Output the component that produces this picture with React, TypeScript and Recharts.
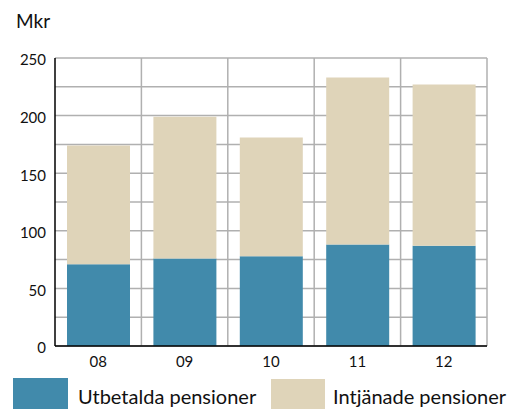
import React from "react";
import {
  BarChart,
  Bar,
  XAxis,
  YAxis,
  CartesianGrid,
} from "recharts";

// years (2008-2012), values in Mkr
const categories = ["08", "09", "10", "11", "12"];
const utbetalda = [71, 76, 78, 88, 87];
const intjanade = [103, 123, 103, 145, 140];
const yTicks = [0, 50, 100, 150, 200, 250];
const gridTicks = [0, 25, 50, 75, 100, 125, 150, 175, 200, 225, 250];
const yMax = 250;

const BLUE = "#418aab";
const BEIGE = "#dfd4b9";
const FONT = "Lato, 'Open Sans', sans-serif";

const data = categories.map((c, i) => ({
  year: c,
  utbetalda: utbetalda[i],
  intjanade: intjanade[i],
}));

export default function App() {
  return (
    <div
      style={{
        position: "absolute",
        left: 0,
        top: 0,
        width: 531,
        height: 409,
        overflow: "hidden",
        background: "#fff",
        fontFamily: FONT,
      }}
    >
      <div
        style={{
          position: "absolute",
          left: 16,
          top: 9,
          fontSize: 19,
          color: "#111",
        }}
      >
        Mkr
      </div>

      <BarChart
        width={531}
        height={409}
        data={data}
        margin={{ top: 58, right: 44, bottom: 33, left: 0 }}
      >
        <CartesianGrid
          stroke="#b0b0b0"
          strokeWidth={1.5}
          horizontalCoordinatesGenerator={({ offset }: any) =>
            gridTicks.map((t) => offset.top + offset.height * (1 - t / yMax))
          }
          verticalCoordinatesGenerator={({ offset }: any) =>
            categories.map(
              (_, i) => offset.left + ((i + 1) * offset.width) / categories.length
            )
          }
        />
        <XAxis
          dataKey="year"
          tickLine={false}
          tickSize={0}
          tickMargin={10}
          height={30}
          axisLine={{ stroke: "#000", strokeWidth: 1.5 }}
          tick={{ fontSize: 15, fill: "#111", fontFamily: FONT }}
        />
        <YAxis
          domain={[0, yMax]}
          ticks={yTicks}
          width={55}
          tickLine={false}
          tickSize={0}
          tickMargin={9}
          axisLine={{ stroke: "#000", strokeWidth: 1.5 }}
          tick={{ fontSize: 15, fill: "#111", fontFamily: FONT, dy: 2 }}
        />
        <Bar
          dataKey="utbetalda"
          stackId="a"
          fill={BLUE}
          barSize={63}
          isAnimationActive={false}
        />
        <Bar
          dataKey="intjanade"
          stackId="a"
          fill={BEIGE}
          barSize={63}
          isAnimationActive={false}
        />
      </BarChart>

      {/* legend */}
      <div
        style={{
          position: "absolute",
          left: 13,
          top: 378,
          width: 55,
          height: 40,
          background: BLUE,
        }}
      />
      <div
        style={{
          position: "absolute",
          left: 78,
          top: 384,
          fontSize: 20,
          color: "#111",
          whiteSpace: "nowrap",
        }}
      >
        Utbetalda pensioner
      </div>
      <div
        style={{
          position: "absolute",
          left: 271,
          top: 379,
          width: 54,
          height: 40,
          background: BEIGE,
        }}
      />
      <div
        style={{
          position: "absolute",
          left: 333,
          top: 384,
          fontSize: 20,
          color: "#111",
          whiteSpace: "nowrap",
        }}
      >
        Intjänade pensioner
      </div>
    </div>
  );
}
